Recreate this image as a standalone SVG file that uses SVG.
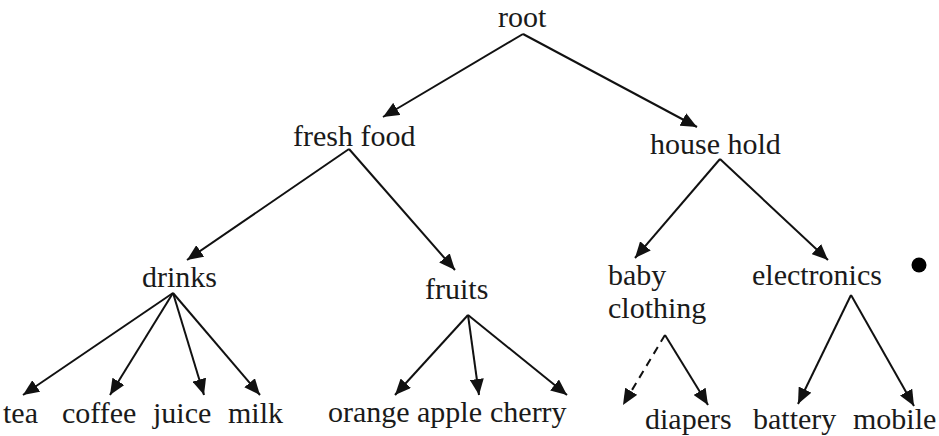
<svg xmlns="http://www.w3.org/2000/svg" width="939" height="436" viewBox="0 0 939 436">
  <style>
    .nodes text { font-size: 30px; fill: #1a1a1a; }
    .edge { stroke: #111; stroke-width: 2; fill: none; }
    .dash { stroke-dasharray: 8 6; }
  </style>
  <defs>
    <marker id="arrow" markerUnits="userSpaceOnUse" markerWidth="17" markerHeight="14" refX="16" refY="7" orient="auto">
      <path d="M0,0 L16,7 L0,14 Z" fill="#111"/>
    </marker>
  </defs>
  <rect width="939" height="436" fill="#fff"/>

  <!-- connectors -->
  <g id="edges">
    <line class="edge" x1="523" y1="34" x2="383" y2="117" marker-end="url(#arrow)"/>
    <line class="edge" x1="523" y1="34" x2="697" y2="127" marker-end="url(#arrow)"/>
    <line class="edge" x1="349" y1="149" x2="187" y2="260" marker-end="url(#arrow)"/>
    <line class="edge" x1="349" y1="149" x2="455" y2="270" marker-end="url(#arrow)"/>
    <line class="edge" x1="720" y1="159" x2="635" y2="258" marker-end="url(#arrow)"/>
    <line class="edge" x1="720" y1="159" x2="828" y2="260" marker-end="url(#arrow)"/>
    <line class="edge" x1="173" y1="293" x2="23" y2="395" marker-end="url(#arrow)"/>
    <line class="edge" x1="173" y1="293" x2="110" y2="395" marker-end="url(#arrow)"/>
    <line class="edge" x1="173" y1="293" x2="204" y2="395" marker-end="url(#arrow)"/>
    <line class="edge" x1="173" y1="293" x2="260" y2="395" marker-end="url(#arrow)"/>
    <line class="edge" x1="468" y1="315" x2="395" y2="395" marker-end="url(#arrow)"/>
    <line class="edge" x1="468" y1="315" x2="479" y2="395" marker-end="url(#arrow)"/>
    <line class="edge" x1="468" y1="315" x2="567" y2="395" marker-end="url(#arrow)"/>
    <line class="edge dash" x1="665" y1="335" x2="623" y2="405" marker-end="url(#arrow)"/>
    <line class="edge" x1="665" y1="335" x2="708" y2="405" marker-end="url(#arrow)"/>
    <line class="edge" x1="851" y1="295" x2="798" y2="404" marker-end="url(#arrow)"/>
    <line class="edge" x1="851" y1="295" x2="914" y2="406" marker-end="url(#arrow)"/>
  </g>

  <!-- nodes -->
  <g class="nodes" font-family="Liberation Serif, serif">
    <g id="root"><text x="498" y="27">root</text></g>
    <g id="fresh-food"><text x="293" y="146">fresh food</text></g>
    <g id="house-hold"><text x="650" y="154">house hold</text></g>
    <g id="drinks"><text x="142" y="287">drinks</text></g>
    <g id="fruits"><text x="425" y="299">fruits</text></g>
    <g id="baby-clothing">
      <text x="608" y="285">baby</text>
      <text x="608" y="318">clothing</text>
    </g>
    <g id="electronics"><text x="752" y="285">electronics</text></g>
    <g id="bullet"><circle cx="919" cy="265" r="7.5" fill="#000"/></g>
    <g id="tea"><text x="3" y="423">tea</text></g>
    <g id="coffee"><text x="62" y="423">coffee</text></g>
    <g id="juice"><text x="153" y="423">juice</text></g>
    <g id="milk"><text x="228" y="423">milk</text></g>
    <g id="orange"><text x="328" y="422">orange</text></g>
    <g id="apple"><text x="417" y="422">apple</text></g>
    <g id="cherry"><text x="490" y="422">cherry</text></g>
    <g id="diapers"><text x="645" y="429">diapers</text></g>
    <g id="battery"><text x="753" y="429">battery</text></g>
    <g id="mobile"><text x="853" y="429">mobile</text></g>
  </g>
</svg>
